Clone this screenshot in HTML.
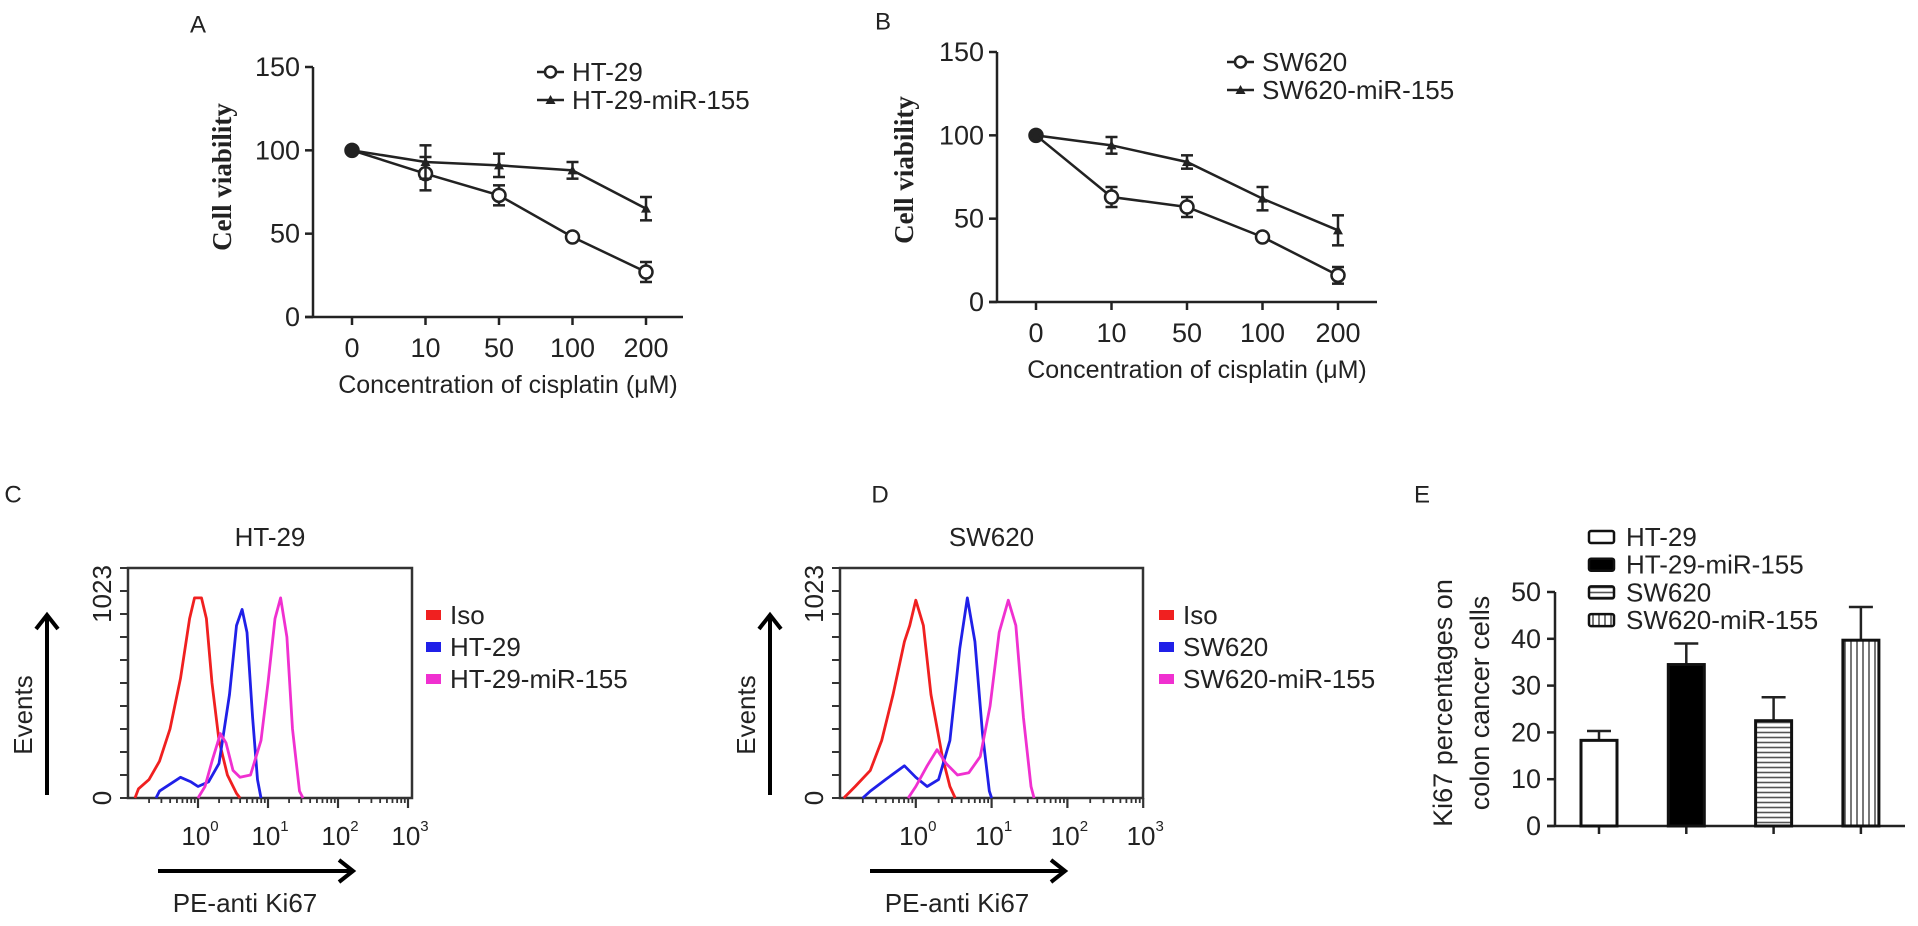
<!DOCTYPE html>
<html><head><meta charset="utf-8">
<style>
html,body{margin:0;padding:0;background:#fff;}
svg{display:block;font-family:"Liberation Sans",Arial,sans-serif;}
</style></head>
<body>
<svg id="fig" width="1918" height="926" viewBox="0 0 1918 926" xmlns="http://www.w3.org/2000/svg">
<defs>
<pattern id="hstripe" width="6" height="5" patternUnits="userSpaceOnUse"><rect width="6" height="5" fill="#fff"/><line x1="0" y1="2.5" x2="6" y2="2.5" stroke="#555" stroke-width="1.6"/></pattern>
<pattern id="vstripe" width="6" height="6" patternUnits="userSpaceOnUse"><rect width="6" height="6" fill="#fff"/><line x1="3" y1="0" x2="3" y2="6" stroke="#555" stroke-width="1.6"/></pattern>
</defs>
<g id="root"></g>
</svg>
<script>
// ---------- Data: panels A & B ----------
const concCats = ["0","10","50","100","200"];
const aHT29 = [100, 86, 73, 48, 27];
const aHT29Err = [1, 10, 6, 1, 6];
const aHT29Mir = [100, 93, 91, 88, 65];
const aHT29MirErr = [1, 10, 7, 5, 7];
const bSW620 = [100, 63, 57, 39, 16];
const bSW620Err = [1, 6, 6, 1, 5];
const bSW620Mir = [100, 94, 84, 62, 43];
const bSW620MirErr = [1, 5, 4, 7, 9];
const viabTicks = [0, 50, 100, 150];
// ---------- Data: histograms C & D  ([log10 intensity, % of max]) ----------
const cIso = [[-0.9,0],[-0.85,4],[-0.7,8],[-0.55,16],[-0.4,30],[-0.25,52],[-0.12,78],[-0.05,87],[0.05,87],[0.12,78],[0.2,50],[0.3,25],[0.42,10],[0.55,2],[0.6,0]];
const cHT29 = [[-0.6,0],[-0.55,3],[-0.4,6],[-0.25,9],[-0.1,7],[0.0,5],[0.15,7],[0.3,15],[0.45,45],[0.55,75],[0.63,82],[0.7,72],[0.78,35],[0.85,8],[0.9,0]];
const cHT29Mir = [[0.0,0],[0.1,5],[0.2,16],[0.32,28],[0.4,24],[0.5,12],[0.6,9],[0.75,10],[0.9,25],[1.0,50],[1.1,78],[1.18,87],[1.27,70],[1.35,30],[1.45,3],[1.5,0]];
const dIso = [[-0.95,0],[-0.8,5],[-0.6,12],[-0.45,25],[-0.3,45],[-0.15,68],[-0.08,75],[0.0,86],[0.1,75],[0.2,45],[0.35,18],[0.45,5],[0.52,0]];
const dSW620 = [[-0.7,0],[-0.6,3],[-0.4,8],[-0.15,14],[0.0,9],[0.15,5],[0.3,8],[0.45,25],[0.58,65],[0.68,87],[0.78,68],[0.88,28],[0.97,3],[1.0,0]];
const dSW620Mir = [[-0.1,0],[0.0,5],[0.15,14],[0.28,21],[0.4,15],[0.55,10],[0.7,11],[0.85,18],[0.98,40],[1.1,72],[1.22,86],[1.32,75],[1.42,35],[1.52,5],[1.56,0]];
const logTicks = [0, 1, 2, 3];
// ---------- Data: panel E ----------
const eCats = ["HT-29","HT-29-miR-155","SW620","SW620-miR-155"];
const eVals = [18.3, 34.5, 22.5, 39.7];
const eErr = [2.0, 4.5, 5.0, 7.1];
const eTicks = [0, 10, 20, 30, 40, 50];

const NS = "http://www.w3.org/2000/svg";
const root = document.getElementById("root");
function mk(tag, attrs, parent, text){
  const e = document.createElementNS(NS, tag);
  for (const k in attrs) e.setAttribute(k, attrs[k]);
  if (text !== undefined) e.textContent = text;
  (parent || root).appendChild(e);
  return e;
}
function grp(name){
  const g = mk("g", {});
  
  
  return g;
}
function txt(parent, x, y, s, size, name, extra){
  const a = {x:x, y:y, "font-size":size, fill:"#222", "dominant-baseline":"central"};
  for (const k in (extra||{})) a[k] = extra[k];
  const t = mk("text", a, parent, s);
  
  
  return t;
}

// Panel letters
[["A",198,25],["B",883,22],["C",13,495],["D",880,495],["E",1422,495]].forEach(function(l){
  const t = txt(root, l[1], l[2], l[0], 24, "panel-label-" + l[0].toLowerCase(), {"text-anchor":"middle"});
});

// ---------- Line charts ----------
function lineChart(o){
  const g = grp(o.name);
  const ys = v => o.y0 - (v / 150) * (o.y0 - o.y150);
  const xs = i => o.x0 + i * o.dx;
  // axes
  const ya = mk("line", {x1:o.ax, y1:o.y150, x2:o.ax, y2:o.y0, stroke:"#222", "stroke-width":2.5}, g);
  
  
  const xa = mk("line", {x1:o.ax - 8, y1:o.y0, x2:o.axEnd, y2:o.y0, stroke:"#222", "stroke-width":2.5}, g);
  
  
  viabTicks.forEach(function(v){
    mk("line", {x1:o.ax - 8, y1:ys(v), x2:o.ax, y2:ys(v), stroke:"#222", "stroke-width":2.5}, g);
    txt(g, o.ax - 13, ys(v), String(v), 27, "y-tick-label", {"text-anchor":"end"});
  });
  concCats.forEach(function(c, i){
    mk("line", {x1:xs(i), y1:o.y0, x2:xs(i), y2:o.y0 + 8, stroke:"#222", "stroke-width":2.5}, g);
    txt(g, xs(i), o.y0 + 31, c, 27, "x-tick-label", {"text-anchor":"middle"});
  });
  txt(g, (o.ax + o.axEnd) / 2 + 10, o.y0 + 68, "Concentration of cisplatin (\u03bcM)", 25, "x-axis-title", {"text-anchor":"middle"});
  const yt = txt(g, 0, 0, "Cell viability", 27, "y-axis-title", {"text-anchor":"middle", "font-family":"'Liberation Serif',serif", "font-weight":"bold", transform:"translate(" + o.ylx + "," + o.yly + ") rotate(-90)"});
  // series
  o.series.forEach(function(s){
    const sg = mk("g", {}, g);
    
    
    const pts = s.vals.map((v, i) => xs(i) + "," + ys(v)).join(" ");
    mk("polyline", {points:pts, fill:"none", stroke:"#222", "stroke-width":2.5}, sg);
    s.vals.forEach(function(v, i){
      const e = s.err[i];
      if (e > 1.5){
        mk("line", {x1:xs(i), y1:ys(v + e), x2:xs(i), y2:ys(v - e), stroke:"#222", "stroke-width":2.5}, sg);
        mk("line", {x1:xs(i) - 6, y1:ys(v + e), x2:xs(i) + 6, y2:ys(v + e), stroke:"#222", "stroke-width":2.5}, sg);
        mk("line", {x1:xs(i) - 6, y1:ys(v - e), x2:xs(i) + 6, y2:ys(v - e), stroke:"#222", "stroke-width":2.5}, sg);
      }
      if (s.marker === "circle"){
        const c = mk("circle", {cx:xs(i), cy:ys(v), r:6.5, fill: i === 0 ? "#222" : "#fff", stroke:"#222", "stroke-width":2.5}, sg);
        
        
      } else {
        const x = xs(i), y = ys(v);
        const p = mk("polygon", {points:(x) + "," + (y - 5) + " " + (x - 5) + "," + (y + 4) + " " + (x + 5) + "," + (y + 4), fill:"#222"}, sg);
        
        
      }
    });
  });
  // legend
  o.series.forEach(function(s, k){
    const ly = o.legY + k * 28;
    const lg = mk("g", {}, g);
    
    
    mk("line", {x1:o.legX, y1:ly, x2:o.legX + 27, y2:ly, stroke:"#222", "stroke-width":2.5}, lg);
    const cx = o.legX + 13.5;
    if (s.marker === "circle") mk("circle", {cx:cx, cy:ly, r:5.5, fill:"#fff", stroke:"#222", "stroke-width":2.5}, lg);
    else mk("polygon", {points:cx + "," + (ly - 5) + " " + (cx - 5) + "," + (ly + 4) + " " + (cx + 5) + "," + (ly + 4), fill:"#222"}, lg);
    txt(lg, o.legX + 35, ly, s.label, 26, "legend-label");
  });
}
lineChart({name:"panel-a-chart", ax:313, axEnd:683, y0:317, y150:67, x0:352, dx:73.5, ylx:222, yly:177, legX:537, legY:72,
  series:[{key:"ht29", label:"HT-29", vals:aHT29, err:aHT29Err, marker:"circle"},
          {key:"ht29-mir155", label:"HT-29-miR-155", vals:aHT29Mir, err:aHT29MirErr, marker:"tri"}]});
lineChart({name:"panel-b-chart", ax:997, axEnd:1377, y0:302, y150:52, x0:1036, dx:75.5, ylx:904, yly:170, legX:1227, legY:62,
  series:[{key:"sw620", label:"SW620", vals:bSW620, err:bSW620Err, marker:"circle"},
          {key:"sw620-mir155", label:"SW620-miR-155", vals:bSW620Mir, err:bSW620MirErr, marker:"tri"}]});

// ---------- Histograms ----------
function arrow(g, x1, y1, x2, y2, name){
  const a = mk("g", {}, g);
  
  
  mk("line", {x1:x1, y1:y1, x2:x2, y2:y2, stroke:"#000", "stroke-width":4}, a);
  if (x1 === x2){ // vertical up
    mk("polyline", {points:(x2 - 11) + "," + (y2 + 14) + " " + x2 + "," + y2 + " " + (x2 + 11) + "," + (y2 + 14), fill:"none", stroke:"#000", "stroke-width":4}, a);
  } else {
    mk("polyline", {points:(x2 - 14) + "," + (y2 - 11) + " " + x2 + "," + y2 + " " + (x2 - 14) + "," + (y2 + 11), fill:"none", stroke:"#000", "stroke-width":4}, a);
  }
}
function histo(o){
  const g = grp(o.name);
  const top = 568, bot = 798;
  const xs = v => o.left + (v + 1) * o.dec;
  const ys = p => bot - p / 100 * (bot - top);
  txt(g, (o.left + o.right) / 2, 537, o.title, 26, "histogram-title", {"text-anchor":"middle"});
  const box = mk("rect", {x:o.left, y:top, width:o.right - o.left, height:bot - top, fill:"none", stroke:"#333", "stroke-width":2.5}, g);
  
  
  for (let k = 0; k <= 10; k++){
    mk("line", {x1:o.left - 8, y1:bot - k * 23, x2:o.left, y2:bot - k * 23, stroke:"#333", "stroke-width":2}, g);
  }
  txt(g, 0, 0, "1023", 26, "y-tick-label", {"text-anchor":"middle", transform:"translate(" + (o.left - 26) + "," + 594 + ") rotate(-90)"});
  txt(g, 0, 0, "0", 26, "y-tick-label", {"text-anchor":"middle", transform:"translate(" + (o.left - 26) + "," + bot + ") rotate(-90)"});
  for (let d = -1; d < 3; d++){
    for (let m = 2; m <= 9; m++){
      const x = xs(d + Math.log10(m));
      mk("line", {x1:x, y1:bot, x2:x, y2:bot + 5, stroke:"#333", "stroke-width":1.8}, g);
    }
  }
  logTicks.forEach(function(t){
    mk("line", {x1:xs(t), y1:bot, x2:xs(t), y2:bot + 10, stroke:"#333", "stroke-width":2.2}, g);
    const tl = mk("text", {x:xs(t) + 2, y:836, "font-size":26, fill:"#222", "text-anchor":"middle", "dominant-baseline":"central"}, g);
    
    
    mk("tspan", {}, tl, "10");
    mk("tspan", {"font-size":15, dy:-10}, tl, String(t));
  });
  o.curves.forEach(function(c){
    const pts = c.data.map(p => xs(p[0]) + "," + ys(p[1])).join(" ");
    const pl = mk("polyline", {points:pts, fill:"none", stroke:c.color, "stroke-width":2.8, "stroke-linejoin":"round"}, g);
    
    
  });
  arrow(g, o.evX, 795, o.evX, 615, "y-arrow");
  txt(g, 0, 0, "Events", 26, "y-axis-title", {"text-anchor":"middle", transform:"translate(" + (o.evX - 24) + ",715) rotate(-90)"});
  arrow(g, o.left + 30, 871, o.left + 225, 871, "x-arrow");
  txt(g, o.left + 117, 903, "PE-anti Ki67", 26, "x-axis-title", {"text-anchor":"middle"});
  o.curves.forEach(function(c, k){
    const lg = mk("g", {}, g);
    
    
    const ly = 615 + k * 32;
    mk("rect", {x:o.legX - 24, y:ly - 5, width:15, height:10, fill:c.color}, lg);
    txt(lg, o.legX, ly, c.label, 26, "legend-label");
  });
}
histo({name:"panel-c-histogram", title:"HT-29", left:128, right:412, dec:70, evX:47, legX:450,
  curves:[{key:"iso", label:"Iso", color:"#f02020", data:cIso},
          {key:"ht29", label:"HT-29", color:"#2020e8", data:cHT29},
          {key:"ht29-mir155", label:"HT-29-miR-155", color:"#f030d0", data:cHT29Mir}]});
histo({name:"panel-d-histogram", title:"SW620", left:840, right:1143, dec:75.8, evX:770, legX:1183,
  curves:[{key:"iso", label:"Iso", color:"#f02020", data:dIso},
          {key:"sw620", label:"SW620", color:"#2020e8", data:dSW620},
          {key:"sw620-mir155", label:"SW620-miR-155", color:"#f030d0", data:dSW620Mir}]});

// ---------- Bar chart E ----------
(function(){
  const g = grp("panel-e-bar-chart");
  const ax = 1555, y0 = 826, y50 = 592, axEnd = 1905;
  const ys = v => y0 - v / 50 * (y0 - y50);
  const xs = i => 1599 + i * 87.3;
  const bw = 36;
  const fills = ["#fff", "#000", "url(#hstripe)", "url(#vstripe)"];
  mk("line", {x1:ax, y1:y50, x2:ax, y2:y0, stroke:"#222", "stroke-width":2.5}, g);
  mk("line", {x1:ax - 8, y1:y0, x2:axEnd, y2:y0, stroke:"#222", "stroke-width":2.5}, g);
  eTicks.forEach(function(t){
    mk("line", {x1:ax - 8, y1:ys(t), x2:ax, y2:ys(t), stroke:"#222", "stroke-width":2.5}, g);
    txt(g, ax - 14, ys(t), String(t), 27, "y-tick-label", {"text-anchor":"end"});
  });
  eVals.forEach(function(v, i){
    const x = xs(i);
    mk("line", {x1:x, y1:y0, x2:x, y2:y0 + 8, stroke:"#222", "stroke-width":2.5}, g);
    const top = ys(v + eErr[i]);
    mk("line", {x1:x, y1:ys(v), x2:x, y2:top, stroke:"#222", "stroke-width":2.5}, g);
    mk("line", {x1:x - 12, y1:top, x2:x + 12, y2:top, stroke:"#222", "stroke-width":2.5}, g);
    const r = mk("rect", {x:x - bw / 2, y:ys(v), width:bw, height:y0 - ys(v), fill:fills[i], stroke:"#111", "stroke-width":3}, g);
    
    
  });
  txt(g, 0, 0, "Ki67 percentages on", 27, "y-axis-title", {"text-anchor":"middle", transform:"translate(1443,703) rotate(-90)"});
  txt(g, 0, 0, "colon cancer cells", 27, "y-axis-title-line2", {"text-anchor":"middle", transform:"translate(1480,703) rotate(-90)"});
  eCats.forEach(function(c, i){
    const lg = mk("g", {}, g);
    
    
    const ly = 537 + i * 27.7;
    mk("rect", {x:1589, y:ly - 6, width:25, height:12, rx:2, fill:fills[i], stroke:"#111", "stroke-width":2.5}, lg);
    txt(lg, 1626, ly, c, 26, "legend-label");
  });
})();
</script>
</body></html>
